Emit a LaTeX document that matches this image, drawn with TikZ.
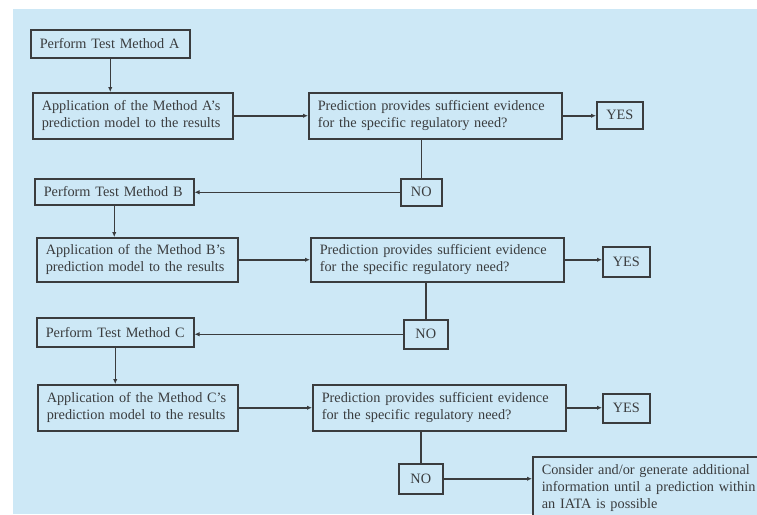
\documentclass[tikz,border=0pt]{standalone}
\usepackage{fontspec}
\setmainfont{Liberation Serif}
\usetikzlibrary{arrows.meta}
\definecolor{panel}{RGB}{205,232,246}
\definecolor{ink}{RGB}{58,60,62}

\begin{document}
\begin{tikzpicture}[x=1pt,y=-1pt,
  every node/.style={font=\fontsize{14.3}{17}\selectfont, text=ink},
  box/.style={draw=ink, line width=1.5pt, fill=panel, anchor=north west,
              inner xsep=9pt, inner ysep=0pt, align=left},
  tag/.style={draw=ink, line width=1.5pt, fill=panel, anchor=north west,
              inner sep=0pt, align=center},
  link/.style={draw=ink, line width=1.5pt},
  flow/.style={link, -{Latex[length=5pt,width=4.5pt]}}]

\useasboundingbox (0,0) rectangle (757,514);
\clip (0,0) rectangle (757,514);
\fill[panel] (13,9) rectangle (757,514);

% Method A
\node[box, text width=141pt, minimum height=28pt] (A1) at (30,29) {Perform Test Method A};
\node[box, text width=182pt, minimum height=46pt] (A2) at (32,92)
  {Application of the Method A's\\prediction model to the results};
\node[box, text width=235pt, minimum height=46pt] (A3) at (308,92)
  {Prediction provides sufficient evidence\\for the specific regulatory need?};
\node[tag, minimum width=46pt, minimum height=27pt] (Y1) at (596,101) {YES};
\node[tag, minimum width=41pt, minimum height=27pt] (N1) at (400,178) {NO};

% Method B
\node[box, text width=141pt, minimum height=26pt] (B1) at (34,178) {Perform Test Method B};
\node[box, text width=183pt, minimum height=44pt] (B2) at (36,237)
  {Application of the Method B's\\prediction model to the results};
\node[box, text width=235pt, minimum height=44pt] (B3) at (310,237)
  {Prediction provides sufficient evidence\\for the specific regulatory need?};
\node[tag, minimum width=47pt, minimum height=30pt] (Y2) at (602,246) {YES};
\node[tag, minimum width=44pt, minimum height=29pt] (N2) at (403,319) {NO};

% Method C
\node[box, text width=139pt, minimum height=29pt] (C1) at (36,317) {Perform Test Method C};
\node[box, text width=182pt, minimum height=46pt] (C2) at (37,384)
  {Application of the Method C's\\prediction model to the results};
\node[box, text width=235pt, minimum height=46pt] (C3) at (312,384)
  {Prediction provides sufficient evidence\\for the specific regulatory need?};
\node[tag, minimum width=47pt, minimum height=29pt] (Y3) at (602,393) {YES};
\node[tag, minimum width=44pt, minimum height=30pt] (N3) at (398,463) {NO};

% Fallback
\node[box, text width=240pt, inner ysep=8pt] (D) at (532,456)
  {Consider and/or generate additional\\information until a prediction within\\an IATA is possible};

% Connectors
\draw[flow] (A1.south) -- (A1.south |- A2.north);
\draw[flow] (A2.east) -- (A3.west);
\draw[flow] (A3.east) -- (A3.east -| Y1.west);
\draw[link] (A3.south -| N1.north) -- (N1.north);
\draw[flow] (N1.west) -- (N1.west -| B1.east);

\draw[flow] (B1.south) -- (B1.south |- B2.north);
\draw[flow] (B2.east) -- (B3.west);
\draw[flow] (B3.east) -- (B3.east -| Y2.west);
\draw[link] (B3.south -| N2.north) -- (N2.north);
\draw[flow] (N2.west) -- (N2.west -| C1.east);

\draw[flow] (C1.south) -- (C1.south |- C2.north);
\draw[flow] (C2.east) -- (C3.west);
\draw[flow] (C3.east) -- (C3.east -| Y3.west);
\draw[link] (C3.south -| N3.north) -- (N3.north);
\draw[flow] (N3.east) -- (N3.east -| D.west);
\end{tikzpicture}
\end{document}
